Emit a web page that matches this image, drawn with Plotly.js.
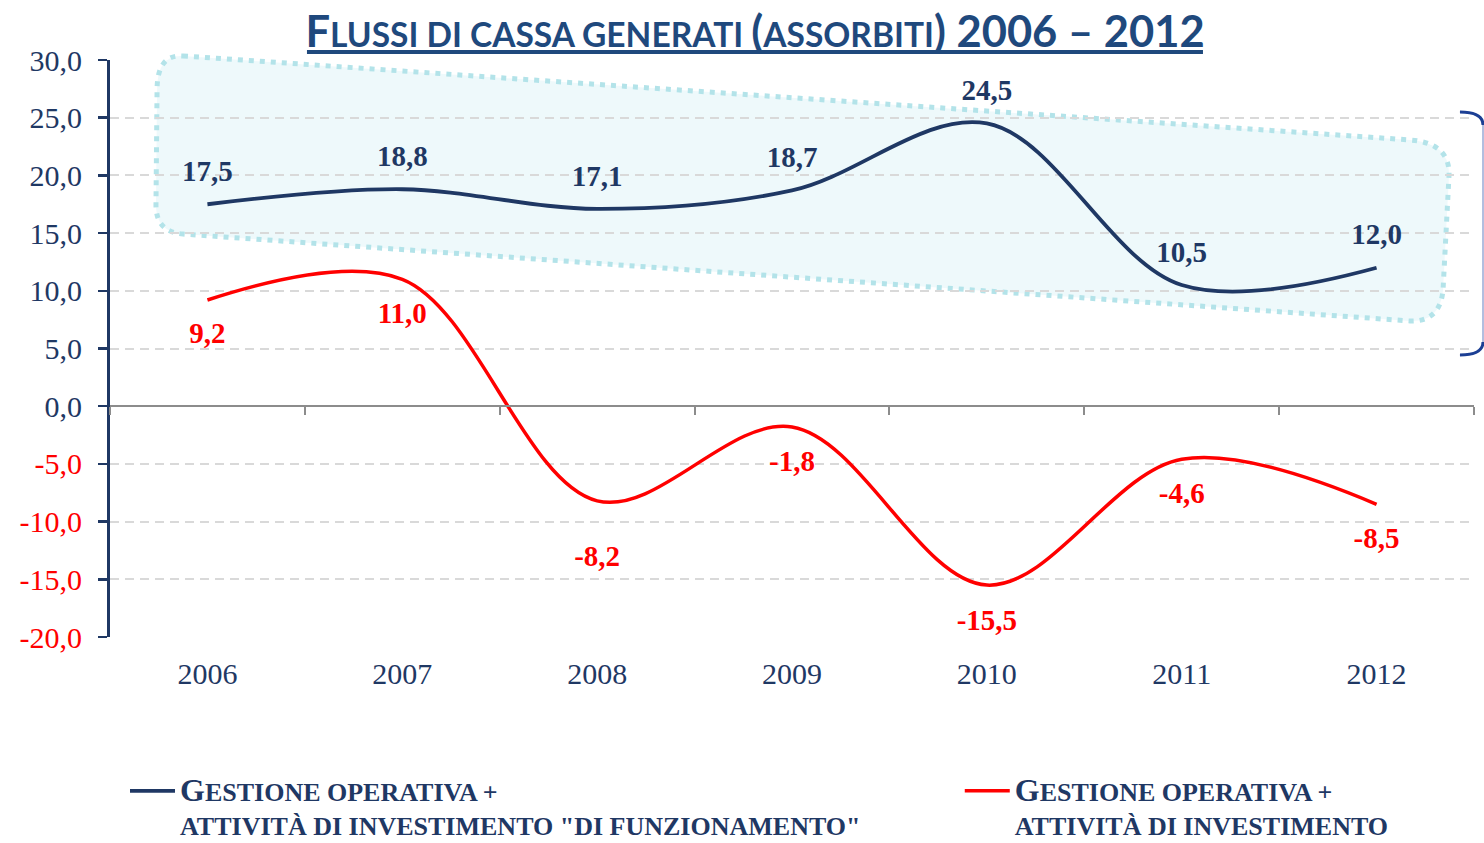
<!DOCTYPE html>
<html>
<head>
<meta charset="utf-8">
<script src="https://cdn.plot.ly/plotly-3.0.1.min.js"></script>
<style>html,body{margin:0;padding:0;background:#fff;}#chart{width:1484px;height:843px;}</style>
</head>
<body>
<div id="chart"></div>
<script>
// ---- data ----
const years = ['2006', '2007', '2008', '2009', '2010', '2011', '2012'];
const operativaFunzionamento = [17.5, 18.8, 17.1, 18.7, 24.5, 10.5, 12.0];
const operativaInvestimento = [9.2, 11.0, -8.2, -1.8, -15.5, -4.6, -8.5];
const yTicks = [30, 25, 20, 15, 10, 5, 0, -5, -10, -15, -20];
const seriesNames = [
  '<span style="font-size:32px">G</span><span style="font-size:26px">ESTIONE OPERATIVA +</span><br><span style="font-size:26px">ATTIVITÀ DI INVESTIMENTO "DI FUNZIONAMENTO"</span>',
  '<span style="font-size:32px">G</span><span style="font-size:26px">ESTIONE OPERATIVA +</span><br><span style="font-size:26px">ATTIVITÀ DI INVESTIMENTO</span>'
];
const titleText = 'F<span style="font-size:33.5px">LUSSI DI CASSA GENERATI </span>(<span style="font-size:33.5px">ASSORBITI</span>) 2006 – 2012';

// ---- styling ----
const NAVY = '#1F3864';
const RED = '#FF0000';
const SERIF = 'Liberation Serif, Times New Roman, serif';
const fmt = v => v.toFixed(1).replace('.', ',');
const xIdx = years.map((_, i) => i);

const traces = [
  {
    x: xIdx, y: operativaFunzionamento, name: seriesNames[0], legend: 'legend',
    mode: 'lines+markers+text', type: 'scatter',
    line: {color: NAVY, width: 3.8, shape: 'spline', smoothing: 1},
    marker: {size: 24, color: 'rgba(0,0,0,0)', line: {width: 0}},
    text: operativaFunzionamento.map(fmt), textposition: 'top center',
    textfont: {family: SERIF, size: 29, color: NAVY, weight: 'bold'},
    hoverinfo: 'skip'
  },
  {
    x: xIdx, y: operativaInvestimento, name: seriesNames[1], legend: 'legend2',
    mode: 'lines+markers+text', type: 'scatter',
    line: {color: RED, width: 3.5, shape: 'spline', smoothing: 1},
    marker: {size: [32, 34, 68, 34, 36, 34, 34], color: 'rgba(0,0,0,0)', line: {width: 0, color: 'rgba(0,0,0,0)'}},
    text: operativaInvestimento.map(fmt), textposition: 'bottom center',
    textfont: {family: SERIF, size: 29, color: RED, weight: 'bold'},
    hoverinfo: 'skip'
  },
  {x: [null], y: [null], xaxis: 'x2', showlegend: false, hoverinfo: 'skip', mode: 'lines'}
];

const legendBase = {
  orientation: 'h', xanchor: 'left', y: -0.226, yanchor: 'top',
  itemwidth: 45, valign: 'top',
  font: {family: SERIF, size: 26, color: NAVY, weight: 'bold'},
  bgcolor: 'rgba(0,0,0,0)'
};

const layout = {
  width: 1484, height: 843,
  margin: {l: 110, r: 10, t: 60, b: 206, autoexpand: false},
  paper_bgcolor: '#ffffff', plot_bgcolor: 'rgba(0,0,0,0)',
  showlegend: true,
  title: {
    text: titleText, x: 0.5088, xanchor: 'center', xref: 'container',
    y: 0.962, yanchor: 'middle', yref: 'container',
    font: {family: 'Lato, Open Sans, sans-serif', size: 43.5, color: '#1F497D', weight: 'bold'}
  },
  xaxis: {
    range: [-0.5, 6.5], tickmode: 'array', tickvals: xIdx, ticktext: years,
    showgrid: false, zeroline: false, showline: false, ticks: '',
    ticklabelstandoff: 16,
    tickfont: {family: SERIF, size: 30, color: NAVY}
  },
  xaxis2: {
    overlaying: 'x', anchor: 'free', position: 0.4, side: 'bottom',
    range: [-0.5, 6.5], tickmode: 'array',
    tickvals: years.map((_, i) => i - 0.5).concat([years.length - 0.5]),
    showticklabels: false, ticks: 'outside', ticklen: 8, tickwidth: 2, tickcolor: '#8C8C8C',
    showline: true, linecolor: '#8C8C8C', linewidth: 2, showgrid: false, zeroline: false
  },
  yaxis: {
    range: [-20, 30], tickmode: 'array', tickvals: yTicks,
    ticktext: yTicks.map(v => v < 0 ? '<span style="color:' + RED + '">' + fmt(v) + '</span>' : fmt(v)),
    showline: true, linecolor: NAVY, linewidth: 3,
    ticks: 'outside', ticklen: 9, tickwidth: 2.5, tickcolor: NAVY,
    showgrid: true, gridcolor: '#D9D9D9', gridwidth: 2, griddash: '9px,6px',
    zeroline: false, ticklabelstandoff: 10,
    tickfont: {family: SERIF, size: 30, color: NAVY}
  },
  legend: Object.assign({}, legendBase, {x: 0.011}),
  legend2: Object.assign({}, legendBase, {x: 0.623}),
  shapes: [
    { // dotted highlight region
      type: 'path', xref: 'paper', yref: 'paper', layer: 'below',
      path: 'M 0.0535,1.0069 L 0.9531,0.8614 Q 0.9824,0.8562 0.9817,0.8007 L 0.9773,0.6014 Q 0.9751,0.5459 0.9531,0.5477 L 0.0535,0.6984 Q 0.0337,0.7019 0.0337,0.7487 L 0.0345,0.9480 Q 0.0345,1.0104 0.0535,1.0069 Z',
      fillcolor: 'rgba(195,235,242,0.28)',
      line: {color: '#B3E3E9', width: 5, dash: '5px,6px'}
    },
    { // bracket curves
      type: 'path', xref: 'paper', yref: 'paper',
      path: 'M 0.9897,0.9099 Q 1.0066,0.9099 1.0066,0.8873 M 1.0066,0.5113 Q 1.0066,0.4887 0.9897,0.4887',
      line: {color: '#1C3F94', width: 3}
    },
    {
      type: 'line', xref: 'paper', yref: 'paper', x0: 1.0066, x1: 1.0066, y0: 0.5113, y1: 0.8873,
      line: {color: '#9AA8D4', width: 1.5}
    },
    { // title underline
      type: 'line', xref: 'paper', yref: 'paper', x0: 0.1444, x1: 0.8013, y0: 1.0139, y1: 1.0139,
      line: {color: '#1F497D', width: 4}
    }
  ]
};

Plotly.newPlot('chart', traces, layout, {displayModeBar: false, staticPlot: true});
</script>
</body>
</html>
